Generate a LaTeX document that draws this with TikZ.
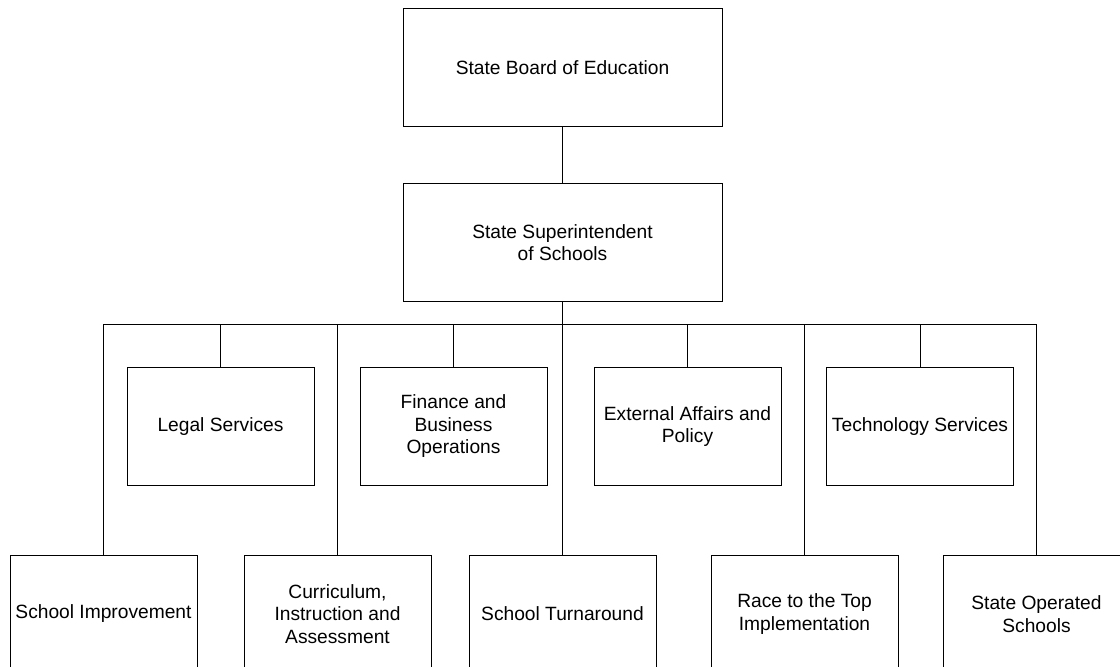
\documentclass[tikz,border=0pt]{standalone}
\usepackage{fontspec}
\setmainfont{Liberation Sans}
\begin{document}
\begin{tikzpicture}[x=1pt,y=-1pt,
  box/.style={draw=black,line width=0.9pt,inner sep=0pt,outer sep=0pt,align=center,
    font=\fontsize{19.2}{22.5}\selectfont},
  topbox/.style={box,minimum width=319pt,minimum height=118pt},
  unitbox/.style={box,minimum width=187pt,minimum height=118pt},
  link/.style={draw=black,line width=0.9pt}]
\useasboundingbox (0,0) rectangle (1120,667);
\clip (0,0) rectangle (1120,667);
\node[topbox] (board) at (562.5,67.5) {State Board of Education};
\node[topbox] (supt) at (562.5,242.5) {State Superintendent\\of Schools};
\node[unitbox] (legal) at (220.5,426.5) {Legal Services};
\node[unitbox] (finance) at (453.5,426.5) {Finance and\\Business\\Operations};
\node[unitbox] (external) at (687.5,426.5) {External Affairs and\\Policy};
\node[unitbox] (tech) at (920,426.5) {Technology Services};
\node[unitbox] (improve) at (103.5,614) {School Improvement};
\node[unitbox] (curric) at (337.5,614) {Curriculum,\\Instruction and\\Assessment};
\node[unitbox] (turn) at (562.5,614) {School Turnaround};
\node[unitbox] (race) at (804.5,614) {Race to the Top\\Implementation};
\node[unitbox] (operated) at (1036.5,614) {State Operated\\Schools};
\coordinate (bus) at (562.5,324);
\draw[link] (board.south) -- (supt.south |- supt.north);
\draw[link] (supt.south) -- (turn.north);
\draw[link] (improve.north) -- (improve.north |- bus) -- (operated.north |- bus) -- (operated.north);
\draw[link] (curric.north) -- (curric.north |- bus);
\draw[link] (race.north) -- (race.north |- bus);
\foreach \n in {legal,finance,external,tech}
  \draw[link] (\n.north) -- (\n.north |- bus);
\end{tikzpicture}
\end{document}
